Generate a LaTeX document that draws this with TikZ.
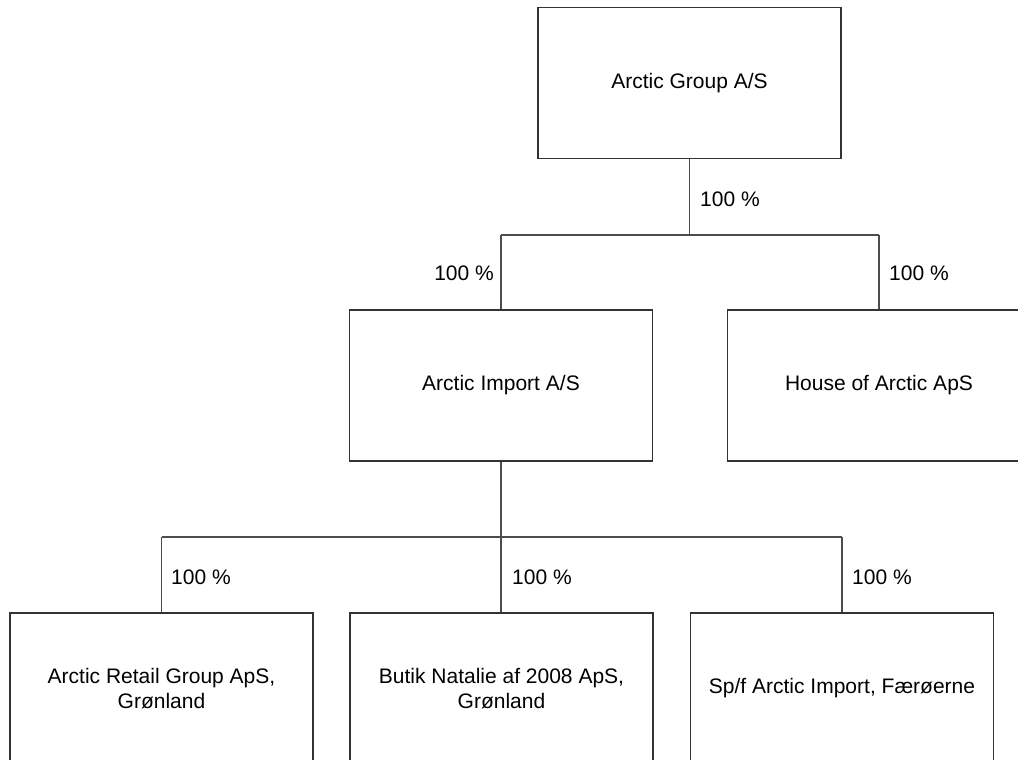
\documentclass[tikz,border=0pt]{standalone}
\usepackage{fontspec}
\setmainfont{Liberation Sans}
\begin{document}
\begin{tikzpicture}[x=1pt,y=-1pt,
  company/.style={draw=black!80,line width=1.1pt,minimum width=303pt,minimum height=151pt,
    inner sep=0pt,align=center,font=\fontsize{21}{25}\selectfont},
  link/.style={draw=black!70,line width=1.1pt},
  pct/.style={font=\fontsize{21}{25}\selectfont,inner sep=0pt}]
\useasboundingbox (0,0) rectangle (1018,760);
\clip (0,0) rectangle (1018,760);
\node[company] (group) at (689.5,83) {Arctic Group A/S};
\node[company] (import) at (501,385.5) {Arctic Import A/S};
\node[company] (house) at (879,385.5) {House of Arctic ApS};
\node[company] (retail) at (161.5,688.5) {Arctic Retail Group ApS,\\Grønland};
\node[company] (butik) at (501.5,688.5) {Butik Natalie af 2008 ApS,\\Grønland};
\node[company] (spf) at (842,688.5) {Sp/f Arctic Import, Færøerne};
\coordinate (j1) at (689.5,235);
\coordinate (j1l) at (501,235);
\coordinate (j1r) at (879,235);
\coordinate (j2) at (501,537);
\coordinate (j2l) at (161.5,537);
\coordinate (j2r) at (842,537);
\draw[link] (group.south) -- (j1);
\draw[link] (j1l) -- (j1r);
\draw[link] (j1l) -- (import.north);
\draw[link] (j1r) -- (house.north);
\draw[link] (import.south) -- (j2);
\draw[link] (j2l) -- (j2r);
\draw[link] (j2l) -- (retail.north);
\draw[link] (j2) -- (j2 |- butik.north);
\draw[link] (j2r) -- (spf.north);
\node[pct,anchor=west] (p0) at (700,199) {100 \%};
\node[pct,anchor=east] (p1) at (494,273) {100 \%};
\node[pct,anchor=west] (p2) at (889,273) {100 \%};
\node[pct,anchor=west] (p3) at (171,577) {100 \%};
\node[pct,anchor=west] (p4) at (512,577) {100 \%};
\node[pct,anchor=west] (p5) at (852,577) {100 \%};
\end{tikzpicture}
\end{document}
